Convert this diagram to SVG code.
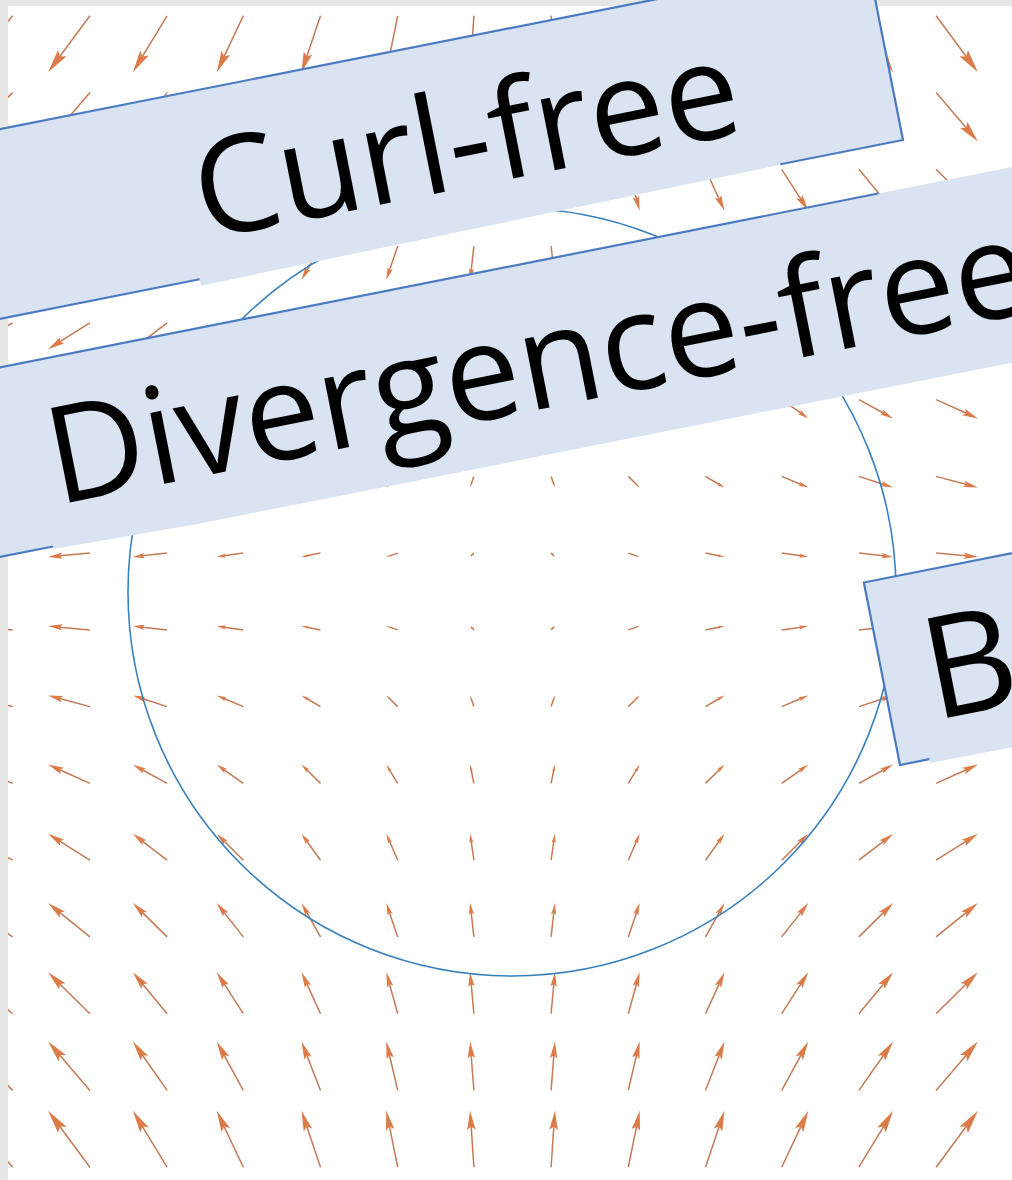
<svg xmlns="http://www.w3.org/2000/svg" xmlns:xlink="http://www.w3.org/1999/xlink" width="1012" height="1180" viewBox="0 0 1012 1180">
<style>
.box{fill:#dae3f1}
.edge{fill:none;stroke:#4a7bc2;stroke-width:2.2}
.lbl{font-family:"Open Sans","Noto Sans",sans-serif;fill:#000}
</style>
<defs>
<g id="a">
<path d="M-1 0H0.45" fill="none" stroke="#c47a56" stroke-width="1.5" vector-effect="non-scaling-stroke"/>
<path d="M1 0L0.32 -0.15L0.44 0L0.32 0.15Z" fill="#dc7a48"/>
</g>
</defs>
<rect width="1012" height="1180" fill="#ffffff"/>
<g id="field">
<g>
<use href="#a" transform="matrix(-24.7 28.2 -28.2 -24.7 -12 44)"/>
<use href="#a" transform="matrix(-20.9 28.2 -28.2 -20.9 69 44)"/>
<use href="#a" transform="matrix(-17.1 28.2 -28.2 -17.1 150 44)"/>
<use href="#a" transform="matrix(-13.3 28.2 -28.2 -13.3 230 44)"/>
<use href="#a" transform="matrix(-9.5 28.2 -28.2 -9.5 311 44)"/>
<use href="#a" transform="matrix(-5.7 28.2 -28.2 -5.7 392 44)"/>
<use href="#a" transform="matrix(-1.9 28.2 -28.2 -1.9 472 44)"/>
<use href="#a" transform="matrix(1.9 28.2 -28.2 1.9 553 44)"/>
<use href="#a" transform="matrix(5.7 28.2 -28.2 5.7 634 44)"/>
<use href="#a" transform="matrix(9.5 28.2 -28.2 9.5 715 44)"/>
<use href="#a" transform="matrix(13.3 28.2 -28.2 13.3 795 44)"/>
<use href="#a" transform="matrix(17.1 28.2 -28.2 17.1 876 44)"/>
<use href="#a" transform="matrix(20.9 28.2 -28.2 20.9 957 44)"/>
</g>
<g>
<use href="#a" transform="matrix(-24.7 24.4 -24.4 -24.7 -12 117)"/>
<use href="#a" transform="matrix(-20.9 24.4 -24.4 -20.9 69 117)"/>
<use href="#a" transform="matrix(-17.1 24.4 -24.4 -17.1 150 117)"/>
<use href="#a" transform="matrix(-13.3 24.4 -24.4 -13.3 230 117)"/>
<use href="#a" transform="matrix(-9.5 24.4 -24.4 -9.5 311 117)"/>
<use href="#a" transform="matrix(-5.7 24.4 -24.4 -5.7 392 117)"/>
<use href="#a" transform="matrix(-1.9 24.4 -24.4 -1.9 472 117)"/>
<use href="#a" transform="matrix(1.9 24.4 -24.4 1.9 553 117)"/>
<use href="#a" transform="matrix(5.7 24.4 -24.4 5.7 634 117)"/>
<use href="#a" transform="matrix(9.5 24.4 -24.4 9.5 715 117)"/>
<use href="#a" transform="matrix(13.3 24.4 -24.4 13.3 795 117)"/>
<use href="#a" transform="matrix(17.1 24.4 -24.4 17.1 876 117)"/>
<use href="#a" transform="matrix(20.9 24.4 -24.4 20.9 957 117)"/>
</g>
<g>
<use href="#a" transform="matrix(-24.7 20.7 -20.7 -24.7 -12 190)"/>
<use href="#a" transform="matrix(-20.9 20.7 -20.7 -20.9 69 190)"/>
<use href="#a" transform="matrix(-17.1 20.7 -20.7 -17.1 150 190)"/>
<use href="#a" transform="matrix(-13.3 20.7 -20.7 -13.3 230 190)"/>
<use href="#a" transform="matrix(-9.5 20.7 -20.7 -9.5 311 190)"/>
<use href="#a" transform="matrix(-5.7 20.7 -20.7 -5.7 392 190)"/>
<use href="#a" transform="matrix(-1.9 20.7 -20.7 -1.9 472 190)"/>
<use href="#a" transform="matrix(1.9 20.7 -20.7 1.9 553 190)"/>
<use href="#a" transform="matrix(5.7 20.7 -20.7 5.7 634 190)"/>
<use href="#a" transform="matrix(9.5 20.7 -20.7 9.5 715 190)"/>
<use href="#a" transform="matrix(13.3 20.7 -20.7 13.3 795 190)"/>
<use href="#a" transform="matrix(17.1 20.7 -20.7 17.1 876 190)"/>
<use href="#a" transform="matrix(20.9 20.7 -20.7 20.9 957 190)"/>
</g>
<g>
<use href="#a" transform="matrix(-24.7 16.9 -16.9 -24.7 -12 263)"/>
<use href="#a" transform="matrix(-20.9 16.9 -16.9 -20.9 69 263)"/>
<use href="#a" transform="matrix(-17.1 16.9 -16.9 -17.1 150 263)"/>
<use href="#a" transform="matrix(-13.3 16.9 -16.9 -13.3 230 263)"/>
<use href="#a" transform="matrix(-9.5 16.9 -16.9 -9.5 311 263)"/>
<use href="#a" transform="matrix(-5.7 16.9 -16.9 -5.7 392 263)"/>
<use href="#a" transform="matrix(-1.9 16.9 -16.9 -1.9 472 263)"/>
<use href="#a" transform="matrix(1.9 16.9 -16.9 1.9 553 263)"/>
<use href="#a" transform="matrix(5.7 16.9 -16.9 5.7 634 263)"/>
<use href="#a" transform="matrix(9.5 16.9 -16.9 9.5 715 263)"/>
<use href="#a" transform="matrix(13.3 16.9 -16.9 13.3 795 263)"/>
<use href="#a" transform="matrix(17.1 16.9 -16.9 17.1 876 263)"/>
<use href="#a" transform="matrix(20.9 16.9 -16.9 20.9 957 263)"/>
</g>
<g>
<use href="#a" transform="matrix(-24.7 13.2 -13.2 -24.7 -12 336)"/>
<use href="#a" transform="matrix(-20.9 13.2 -13.2 -20.9 69 336)"/>
<use href="#a" transform="matrix(-17.1 13.2 -13.2 -17.1 150 336)"/>
<use href="#a" transform="matrix(-13.3 13.2 -13.2 -13.3 230 336)"/>
<use href="#a" transform="matrix(-9.5 13.2 -13.2 -9.5 311 336)"/>
<use href="#a" transform="matrix(-5.7 13.2 -13.2 -5.7 392 336)"/>
<use href="#a" transform="matrix(-1.9 13.2 -13.2 -1.9 472 336)"/>
<use href="#a" transform="matrix(1.9 13.2 -13.2 1.9 553 336)"/>
<use href="#a" transform="matrix(5.7 13.2 -13.2 5.7 634 336)"/>
<use href="#a" transform="matrix(9.5 13.2 -13.2 9.5 715 336)"/>
<use href="#a" transform="matrix(13.3 13.2 -13.2 13.3 795 336)"/>
<use href="#a" transform="matrix(17.1 13.2 -13.2 17.1 876 336)"/>
<use href="#a" transform="matrix(20.9 13.2 -13.2 20.9 957 336)"/>
</g>
<g>
<use href="#a" transform="matrix(-24.7 9.4 -9.4 -24.7 -12 409)"/>
<use href="#a" transform="matrix(-20.9 9.4 -9.4 -20.9 69 409)"/>
<use href="#a" transform="matrix(-17.1 9.4 -9.4 -17.1 150 409)"/>
<use href="#a" transform="matrix(-13.3 9.4 -9.4 -13.3 230 409)"/>
<use href="#a" transform="matrix(-9.5 9.4 -9.4 -9.5 311 409)"/>
<use href="#a" transform="matrix(-5.7 9.4 -9.4 -5.7 392 409)"/>
<use href="#a" transform="matrix(-1.9 9.4 -9.4 -1.9 472 409)"/>
<use href="#a" transform="matrix(1.9 9.4 -9.4 1.9 553 409)"/>
<use href="#a" transform="matrix(5.7 9.4 -9.4 5.7 634 409)"/>
<use href="#a" transform="matrix(9.5 9.4 -9.4 9.5 715 409)"/>
<use href="#a" transform="matrix(13.3 9.4 -9.4 13.3 795 409)"/>
<use href="#a" transform="matrix(17.1 9.4 -9.4 17.1 876 409)"/>
<use href="#a" transform="matrix(20.9 9.4 -9.4 20.9 957 409)"/>
</g>
<g>
<use href="#a" transform="matrix(-24.7 5.6 -5.6 -24.7 -12 482)"/>
<use href="#a" transform="matrix(-20.9 5.6 -5.6 -20.9 69 482)"/>
<use href="#a" transform="matrix(-17.1 5.6 -5.6 -17.1 150 482)"/>
<use href="#a" transform="matrix(-13.3 5.6 -5.6 -13.3 230 482)"/>
<use href="#a" transform="matrix(-9.5 5.6 -5.6 -9.5 311 482)"/>
<use href="#a" transform="matrix(-5.7 5.6 -5.6 -5.7 392 482)"/>
<use href="#a" transform="matrix(-1.9 5.6 -5.6 -1.9 472 482)"/>
<use href="#a" transform="matrix(1.9 5.6 -5.6 1.9 553 482)"/>
<use href="#a" transform="matrix(5.7 5.6 -5.6 5.7 634 482)"/>
<use href="#a" transform="matrix(9.5 5.6 -5.6 9.5 715 482)"/>
<use href="#a" transform="matrix(13.3 5.6 -5.6 13.3 795 482)"/>
<use href="#a" transform="matrix(17.1 5.6 -5.6 17.1 876 482)"/>
<use href="#a" transform="matrix(20.9 5.6 -5.6 20.9 957 482)"/>
</g>
<g>
<use href="#a" transform="matrix(-24.7 1.9 -1.9 -24.7 -12 555)"/>
<use href="#a" transform="matrix(-20.9 1.9 -1.9 -20.9 69 555)"/>
<use href="#a" transform="matrix(-17.1 1.9 -1.9 -17.1 150 555)"/>
<use href="#a" transform="matrix(-13.3 1.9 -1.9 -13.3 230 555)"/>
<use href="#a" transform="matrix(-9.5 1.9 -1.9 -9.5 311 555)"/>
<use href="#a" transform="matrix(-5.7 1.9 -1.9 -5.7 392 555)"/>
<use href="#a" transform="matrix(-1.9 1.9 -1.9 -1.9 472 555)"/>
<use href="#a" transform="matrix(1.9 1.9 -1.9 1.9 553 555)"/>
<use href="#a" transform="matrix(5.7 1.9 -1.9 5.7 634 555)"/>
<use href="#a" transform="matrix(9.5 1.9 -1.9 9.5 715 555)"/>
<use href="#a" transform="matrix(13.3 1.9 -1.9 13.3 795 555)"/>
<use href="#a" transform="matrix(17.1 1.9 -1.9 17.1 876 555)"/>
<use href="#a" transform="matrix(20.9 1.9 -1.9 20.9 957 555)"/>
</g>
<g>
<use href="#a" transform="matrix(-24.7 -1.9 1.9 -24.7 -12 628)"/>
<use href="#a" transform="matrix(-20.9 -1.9 1.9 -20.9 69 628)"/>
<use href="#a" transform="matrix(-17.1 -1.9 1.9 -17.1 150 628)"/>
<use href="#a" transform="matrix(-13.3 -1.9 1.9 -13.3 230 628)"/>
<use href="#a" transform="matrix(-9.5 -1.9 1.9 -9.5 311 628)"/>
<use href="#a" transform="matrix(-5.7 -1.9 1.9 -5.7 392 628)"/>
<use href="#a" transform="matrix(-1.9 -1.9 1.9 -1.9 472 628)"/>
<use href="#a" transform="matrix(1.9 -1.9 1.9 1.9 553 628)"/>
<use href="#a" transform="matrix(5.7 -1.9 1.9 5.7 634 628)"/>
<use href="#a" transform="matrix(9.5 -1.9 1.9 9.5 715 628)"/>
<use href="#a" transform="matrix(13.3 -1.9 1.9 13.3 795 628)"/>
<use href="#a" transform="matrix(17.1 -1.9 1.9 17.1 876 628)"/>
<use href="#a" transform="matrix(20.9 -1.9 1.9 20.9 957 628)"/>
</g>
<g>
<use href="#a" transform="matrix(-24.7 -5.6 5.6 -24.7 -12 701)"/>
<use href="#a" transform="matrix(-20.9 -5.6 5.6 -20.9 69 701)"/>
<use href="#a" transform="matrix(-17.1 -5.6 5.6 -17.1 150 701)"/>
<use href="#a" transform="matrix(-13.3 -5.6 5.6 -13.3 230 701)"/>
<use href="#a" transform="matrix(-9.5 -5.6 5.6 -9.5 311 701)"/>
<use href="#a" transform="matrix(-5.7 -5.6 5.6 -5.7 392 701)"/>
<use href="#a" transform="matrix(-1.9 -5.6 5.6 -1.9 472 701)"/>
<use href="#a" transform="matrix(1.9 -5.6 5.6 1.9 553 701)"/>
<use href="#a" transform="matrix(5.7 -5.6 5.6 5.7 634 701)"/>
<use href="#a" transform="matrix(9.5 -5.6 5.6 9.5 715 701)"/>
<use href="#a" transform="matrix(13.3 -5.6 5.6 13.3 795 701)"/>
<use href="#a" transform="matrix(17.1 -5.6 5.6 17.1 876 701)"/>
<use href="#a" transform="matrix(20.9 -5.6 5.6 20.9 957 701)"/>
</g>
<g>
<use href="#a" transform="matrix(-24.7 -9.4 9.4 -24.7 -12 774)"/>
<use href="#a" transform="matrix(-20.9 -9.4 9.4 -20.9 69 774)"/>
<use href="#a" transform="matrix(-17.1 -9.4 9.4 -17.1 150 774)"/>
<use href="#a" transform="matrix(-13.3 -9.4 9.4 -13.3 230 774)"/>
<use href="#a" transform="matrix(-9.5 -9.4 9.4 -9.5 311 774)"/>
<use href="#a" transform="matrix(-5.7 -9.4 9.4 -5.7 392 774)"/>
<use href="#a" transform="matrix(-1.9 -9.4 9.4 -1.9 472 774)"/>
<use href="#a" transform="matrix(1.9 -9.4 9.4 1.9 553 774)"/>
<use href="#a" transform="matrix(5.7 -9.4 9.4 5.7 634 774)"/>
<use href="#a" transform="matrix(9.5 -9.4 9.4 9.5 715 774)"/>
<use href="#a" transform="matrix(13.3 -9.4 9.4 13.3 795 774)"/>
<use href="#a" transform="matrix(17.1 -9.4 9.4 17.1 876 774)"/>
<use href="#a" transform="matrix(20.9 -9.4 9.4 20.9 957 774)"/>
</g>
<g>
<use href="#a" transform="matrix(-24.7 -13.2 13.2 -24.7 -12 847)"/>
<use href="#a" transform="matrix(-20.9 -13.2 13.2 -20.9 69 847)"/>
<use href="#a" transform="matrix(-17.1 -13.2 13.2 -17.1 150 847)"/>
<use href="#a" transform="matrix(-13.3 -13.2 13.2 -13.3 230 847)"/>
<use href="#a" transform="matrix(-9.5 -13.2 13.2 -9.5 311 847)"/>
<use href="#a" transform="matrix(-5.7 -13.2 13.2 -5.7 392 847)"/>
<use href="#a" transform="matrix(-1.9 -13.2 13.2 -1.9 472 847)"/>
<use href="#a" transform="matrix(1.9 -13.2 13.2 1.9 553 847)"/>
<use href="#a" transform="matrix(5.7 -13.2 13.2 5.7 634 847)"/>
<use href="#a" transform="matrix(9.5 -13.2 13.2 9.5 715 847)"/>
<use href="#a" transform="matrix(13.3 -13.2 13.2 13.3 795 847)"/>
<use href="#a" transform="matrix(17.1 -13.2 13.2 17.1 876 847)"/>
<use href="#a" transform="matrix(20.9 -13.2 13.2 20.9 957 847)"/>
</g>
<g>
<use href="#a" transform="matrix(-24.7 -16.9 16.9 -24.7 -12 920)"/>
<use href="#a" transform="matrix(-20.9 -16.9 16.9 -20.9 69 920)"/>
<use href="#a" transform="matrix(-17.1 -16.9 16.9 -17.1 150 920)"/>
<use href="#a" transform="matrix(-13.3 -16.9 16.9 -13.3 230 920)"/>
<use href="#a" transform="matrix(-9.5 -16.9 16.9 -9.5 311 920)"/>
<use href="#a" transform="matrix(-5.7 -16.9 16.9 -5.7 392 920)"/>
<use href="#a" transform="matrix(-1.9 -16.9 16.9 -1.9 472 920)"/>
<use href="#a" transform="matrix(1.9 -16.9 16.9 1.9 553 920)"/>
<use href="#a" transform="matrix(5.7 -16.9 16.9 5.7 634 920)"/>
<use href="#a" transform="matrix(9.5 -16.9 16.9 9.5 715 920)"/>
<use href="#a" transform="matrix(13.3 -16.9 16.9 13.3 795 920)"/>
<use href="#a" transform="matrix(17.1 -16.9 16.9 17.1 876 920)"/>
<use href="#a" transform="matrix(20.9 -16.9 16.9 20.9 957 920)"/>
</g>
<g>
<use href="#a" transform="matrix(-24.7 -20.7 20.7 -24.7 -12 993)"/>
<use href="#a" transform="matrix(-20.9 -20.7 20.7 -20.9 69 993)"/>
<use href="#a" transform="matrix(-17.1 -20.7 20.7 -17.1 150 993)"/>
<use href="#a" transform="matrix(-13.3 -20.7 20.7 -13.3 230 993)"/>
<use href="#a" transform="matrix(-9.5 -20.7 20.7 -9.5 311 993)"/>
<use href="#a" transform="matrix(-5.7 -20.7 20.7 -5.7 392 993)"/>
<use href="#a" transform="matrix(-1.9 -20.7 20.7 -1.9 472 993)"/>
<use href="#a" transform="matrix(1.9 -20.7 20.7 1.9 553 993)"/>
<use href="#a" transform="matrix(5.7 -20.7 20.7 5.7 634 993)"/>
<use href="#a" transform="matrix(9.5 -20.7 20.7 9.5 715 993)"/>
<use href="#a" transform="matrix(13.3 -20.7 20.7 13.3 795 993)"/>
<use href="#a" transform="matrix(17.1 -20.7 20.7 17.1 876 993)"/>
<use href="#a" transform="matrix(20.9 -20.7 20.7 20.9 957 993)"/>
</g>
<g>
<use href="#a" transform="matrix(-24.7 -24.4 24.4 -24.7 -12 1066)"/>
<use href="#a" transform="matrix(-20.9 -24.4 24.4 -20.9 69 1066)"/>
<use href="#a" transform="matrix(-17.1 -24.4 24.4 -17.1 150 1066)"/>
<use href="#a" transform="matrix(-13.3 -24.4 24.4 -13.3 230 1066)"/>
<use href="#a" transform="matrix(-9.5 -24.4 24.4 -9.5 311 1066)"/>
<use href="#a" transform="matrix(-5.7 -24.4 24.4 -5.7 392 1066)"/>
<use href="#a" transform="matrix(-1.9 -24.4 24.4 -1.9 472 1066)"/>
<use href="#a" transform="matrix(1.9 -24.4 24.4 1.9 553 1066)"/>
<use href="#a" transform="matrix(5.7 -24.4 24.4 5.7 634 1066)"/>
<use href="#a" transform="matrix(9.5 -24.4 24.4 9.5 715 1066)"/>
<use href="#a" transform="matrix(13.3 -24.4 24.4 13.3 795 1066)"/>
<use href="#a" transform="matrix(17.1 -24.4 24.4 17.1 876 1066)"/>
<use href="#a" transform="matrix(20.9 -24.4 24.4 20.9 957 1066)"/>
</g>
<g>
<use href="#a" transform="matrix(-24.7 -28.2 28.2 -24.7 -12 1139)"/>
<use href="#a" transform="matrix(-20.9 -28.2 28.2 -20.9 69 1139)"/>
<use href="#a" transform="matrix(-17.1 -28.2 28.2 -17.1 150 1139)"/>
<use href="#a" transform="matrix(-13.3 -28.2 28.2 -13.3 230 1139)"/>
<use href="#a" transform="matrix(-9.5 -28.2 28.2 -9.5 311 1139)"/>
<use href="#a" transform="matrix(-5.7 -28.2 28.2 -5.7 392 1139)"/>
<use href="#a" transform="matrix(-1.9 -28.2 28.2 -1.9 472 1139)"/>
<use href="#a" transform="matrix(1.9 -28.2 28.2 1.9 553 1139)"/>
<use href="#a" transform="matrix(5.7 -28.2 28.2 5.7 634 1139)"/>
<use href="#a" transform="matrix(9.5 -28.2 28.2 9.5 715 1139)"/>
<use href="#a" transform="matrix(13.3 -28.2 28.2 13.3 795 1139)"/>
<use href="#a" transform="matrix(17.1 -28.2 28.2 17.1 876 1139)"/>
<use href="#a" transform="matrix(20.9 -28.2 28.2 20.9 957 1139)"/>
</g>
</g>
<circle id="circle" cx="512" cy="592" r="384" fill="none" stroke="#3a80bd" stroke-width="1.6"/>
<g id="frame" fill="#e7e7e7">
<rect x="0" y="0" width="1012" height="6"/>
<rect x="0" y="0" width="8" height="1180"/>
</g>
<g id="curl-free" transform="translate(903 140) rotate(-11.2)">
<rect class="box" x="-1150" y="-186" width="1150" height="186"/>
<polygon class="box" points="-717,-4 -122,-4 -122,0.4 -717,6.5"/>
<path class="edge" d="M-1150 -186H0V0H-125M-717 0H-1150"/>
<text class="lbl" x="-705" y="-38" font-size="135">Curl-free</text>
</g>
<g id="divergence-free" transform="translate(53 546.5) rotate(-11.2)">
<rect class="box" x="-300" y="-186" width="1500" height="186"/>
<polygon class="box" points="0,-4 1500,-4 1500,6 150,6 0,2.5"/>
<path class="edge" d="M-300 -186H878M-300 0H0"/>
<text class="lbl" x="12" y="-40" font-size="135">Divergence-free</text>
</g>
<g id="both" transform="translate(900 765) rotate(-11.2)">
<rect class="box" x="0" y="-186" width="400" height="186"/>
<polygon class="box" points="30,-4 400,-4 400,5 30,4"/>
<path class="edge" d="M400 -186H0V0H30"/>
<text class="lbl" x="42" y="-37" font-size="142">B<tspan dx="-10">oth</tspan></text>
</g>
</svg>
